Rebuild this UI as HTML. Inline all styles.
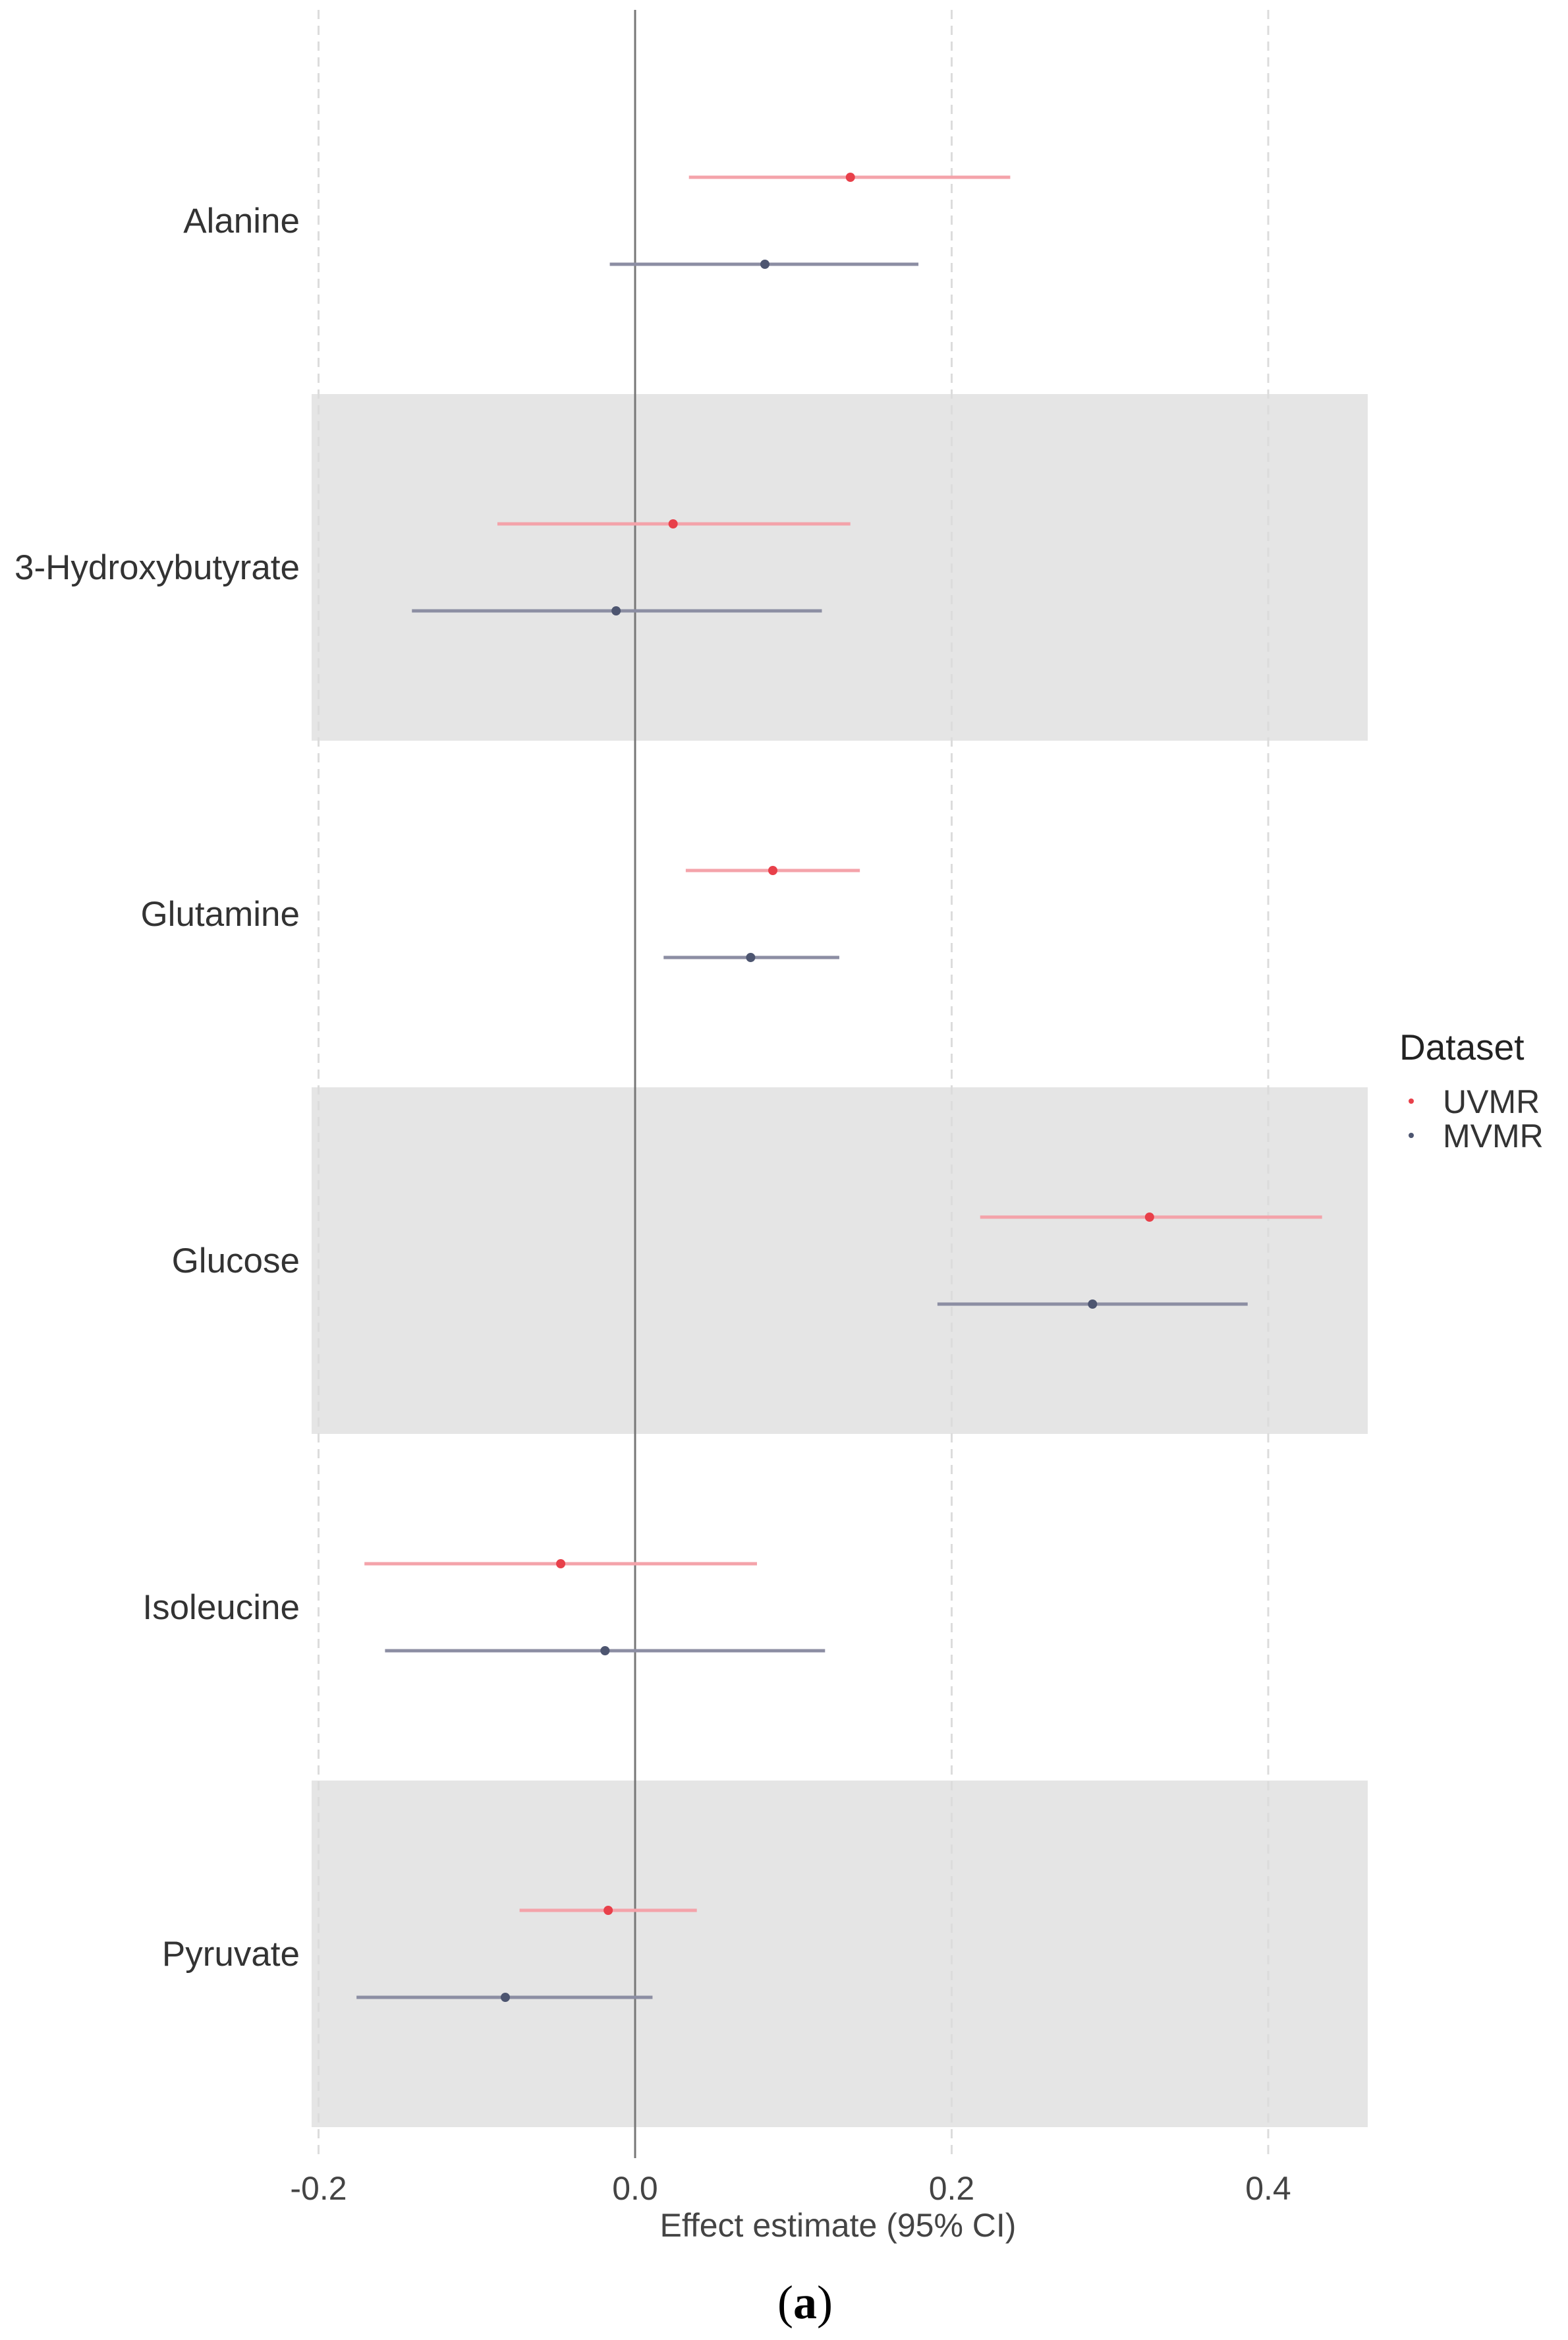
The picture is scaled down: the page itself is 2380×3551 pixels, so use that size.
<!DOCTYPE html>
<html><head><meta charset="utf-8"><style>
html,body{margin:0;padding:0;background:#fff;}
svg{display:block;font-family:"Liberation Sans",sans-serif;}
</style></head><body>
<svg id="chart" width="2380" height="3551" viewBox="0 0 2380 3551"></svg>
<script>
const categories=["Alanine","3-Hydroxybutyrate","Glutamine","Glucose","Isoleucine","Pyruvate"];
const uvmrEst=[0.136,0.024,0.087,0.325,-0.047,-0.017];
const uvmrLo=[0.034,-0.087,0.032,0.218,-0.171,-0.073];
const uvmrHi=[0.237,0.136,0.142,0.434,0.077,0.039];
const mvmrEst=[0.082,-0.012,0.073,0.289,-0.019,-0.082];
const mvmrLo=[-0.016,-0.141,0.018,0.191,-0.158,-0.176];
const mvmrHi=[0.179,0.118,0.129,0.387,0.120,0.011];
const ticks=[-0.2,0,0.2,0.4];
const tickLabels=["-0.2","0.0","0.2","0.4"];

const NS="http://www.w3.org/2000/svg";
const svgEl=document.getElementById('chart');
const zeroX=964, pxPer=2402.5;
const xs=v=>zeroX+v*pxPer;
const plotTop=72, rowH=526, panelL=473, panelR=2076;
const yc=i=>plotTop+rowH*(i+0.5);
function mk(tag,a){const e=document.createElementNS(NS,tag);for(const k in a)e.setAttribute(k,a[k]);svgEl.appendChild(e);return e;}

categories.forEach((c,i)=>{
  if(i%2===1){
    const b=mk('rect',{x:panelL,y:plotTop+rowH*i,width:panelR-panelL,height:rowH,fill:'#e5e5e5'});
    
    
  }
});
ticks.forEach((t,i)=>{
  if(t!==0){
    const g=mk('line',{x1:xs(t),x2:xs(t),y1:15,y2:3270,stroke:'#dcdcdc','stroke-width':3,'stroke-dasharray':'14 10'});
    
    
  }
  const tl=mk('text',{x:xs(t),y:3338,'font-size':50,fill:'#444','text-anchor':'middle'});
  tl.textContent=tickLabels[i];
  
  
});
const z=mk('line',{x1:xs(0),x2:xs(0),y1:15,y2:3275,stroke:'#777','stroke-width':3});



categories.forEach((c,i)=>{
  const t=mk('text',{x:455,y:yc(i)+18,'font-size':53,fill:'#333','text-anchor':'end'});
  t.textContent=c;
  
  
  const y1=yc(i)-66, y2=yc(i)+66;
  const l1=mk('line',{x1:xs(uvmrLo[i]),x2:xs(uvmrHi[i]),y1:y1,y2:y1,stroke:'#f4a3aa','stroke-width':5});
  
  
  const p1=mk('circle',{cx:xs(uvmrEst[i]),cy:y1,r:7,fill:'#e8404a'});
  
  
  const l2=mk('line',{x1:xs(mvmrLo[i]),x2:xs(mvmrHi[i]),y1:y2,y2:y2,stroke:'#8c8ea3','stroke-width':5});
  
  
  const p2=mk('circle',{cx:xs(mvmrEst[i]),cy:y2,r:7,fill:'#4d5570'});
  
  
});

const at=mk('text',{x:1272,y:3394,'font-size':50,fill:'#444','text-anchor':'middle'});
at.textContent='Effect estimate (95% CI)';


const cap=mk('text',{x:1222,y:3518,'font-size':72,fill:'#000','text-anchor':'middle','font-family':'Liberation Serif, serif'});
cap.innerHTML='(<tspan font-weight="bold">a</tspan>)';



const lt=mk('text',{x:2124,y:1608,'font-size':55,fill:'#222'});
lt.textContent='Dataset';


[['UVMR','#e8404a',1671],['MVMR','#4d5570',1723]].forEach(d=>{
  const c=mk('circle',{cx:2142,cy:d[2],r:4,fill:d[1]});
  
  
  const t=mk('text',{x:2190,y:d[2]+18,'font-size':50,fill:'#333'});
  t.textContent=d[0];
  
  
});
</script>
</body></html>
